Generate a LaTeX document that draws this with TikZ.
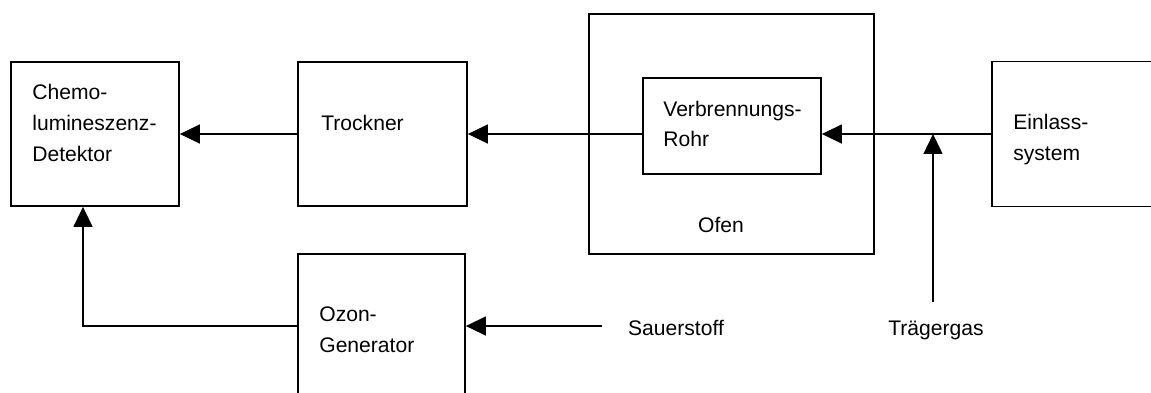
\documentclass[tikz,border=0pt]{standalone}
\usepackage{fontspec}
\setmainfont{Liberation Sans}
\usetikzlibrary{arrows.meta}

\begin{document}
\begin{tikzpicture}[x=0.02cm, y=-0.02cm, font=\fontsize{12}{17.6}\selectfont]

\clip (0,0) rectangle (1151,392);

\begin{scope}[every node/.style={rectangle, draw, line width=1pt, inner sep=0pt}]
    \node[minimum width=3.36cm, minimum height=2.88cm] (det) at (95,134) {};
    \node[minimum width=3.38cm, minimum height=2.88cm] (dryer) at (382.5,134) {};
    \node[minimum width=5.70cm, minimum height=4.80cm] (oven) at (731.5,134) {};
    \node[minimum width=3.56cm, minimum height=1.92cm] (tube) at (732,126) {};
    \node[minimum width=4.32cm, minimum height=2.90cm] (inlet) at (1100,134) {};
    \node[minimum width=3.34cm, minimum height=2.88cm] (ozone) at (381.5,326) {};
\end{scope}

\begin{scope}[every node/.style={inner sep=0pt, align=left}]
    \node[anchor=west] (det text) at (32,123) {Chemo-\\lumineszenz-\\Detektor};
    \node[anchor=west] (dryer text) at (321,123) {Trockner};
    \node[anchor=west] (tube text) at (663,124) {Verbrennungs-\\Rohr};
    \node (oven text) at (721,225) {Ofen};
    \node[anchor=west] (inlet text) at (1013,140) {Einlass-\\system};
    \node[anchor=west] (ozone text) at (319,330) {Ozon-\\Generator};
    \node (oxy) at (676,328) {Sauerstoff};
    \node (gas) at (936,330) {Trägergas};
\end{scope}

\coordinate (oxy in) at (602,326);
\coordinate (gas in) at (933,302);
\coordinate (bend) at (83,326);

\begin{scope}[-{Triangle[length=0.4cm, width=0.38cm]}, line width=0.8pt]
    \draw (dryer.west) -- (det.east);
    \draw (tube.west |- dryer.west) -- (dryer.east);
    \draw (inlet.west) -- (tube.east |- inlet.west);
    \draw (gas in) -- (gas in |- inlet.west);
    \draw (oxy in) -- (ozone.east);
    \draw (ozone.west) -- (bend) -- (bend |- det.south);
\end{scope}

\end{tikzpicture}
\end{document}
